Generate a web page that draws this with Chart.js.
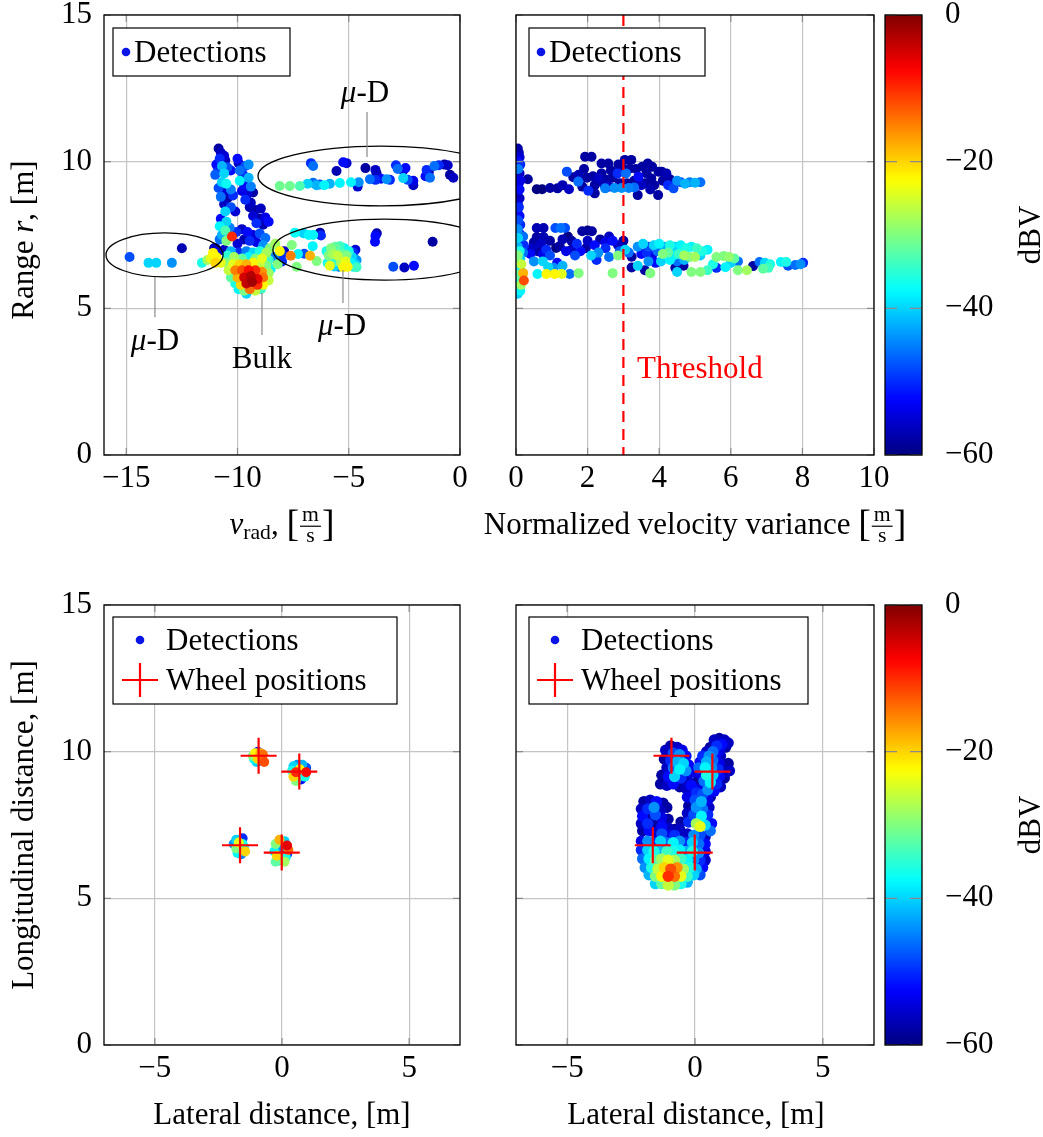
<!DOCTYPE html>
<html>
<head>
<meta charset="utf-8">
<script src="https://cdn.jsdelivr.net/npm/chart.js@4.4.1/dist/chart.umd.min.js"></script>
<style>
  body { margin: 0; background: #fff; width: 1043px; height: 1137px; position: relative; overflow: hidden; }
  canvas { position: absolute; }
</style>
</head>
<body>
<canvas id="tl" width="480" height="560" style="left:0;top:0"></canvas>
<canvas id="tr" width="470" height="560" style="left:480px;top:0"></canvas>
<canvas id="cbTop" width="173" height="480" style="left:870px;top:0"></canvas>
<canvas id="bl" width="480" height="577" style="left:0;top:560px"></canvas>
<canvas id="br" width="420" height="577" style="left:480px;top:560px"></canvas>
<canvas id="cbBottom" width="173" height="480" style="left:870px;top:590px"></canvas>
<script>
// detections are [x, y, dBV]

// top left: range vs radial velocity
const tlBulk = [
  [-10.85,10.45,-58],[-10.75,10.3,-56],[-10.6,10.2,-55],[-10.8,10.1,-50],[-10.55,10.05,-57],
  [-10.95,9.9,-52],[-10.7,9.85,-42],[-10.45,9.8,-48],[-10.9,9.65,-50],[-10.6,9.6,-40],[-10.3,9.7,-52],[-11.0,9.55,-47],
  [-10.0,10.1,-52],[-9.95,9.95,-56],[-9.65,9.85,-48],[-9.5,9.9,-44],[-9.9,9.7,-46],
  [-9.75,9.55,-50],[-9.5,9.45,-42],[-9.9,9.35,-38],[-9.7,9.2,-52],[-9.4,9.15,-45],[-9.8,9.0,-54],[-9.55,8.9,-55],[-9.3,8.95,-58],[-9.65,8.7,-50],[-9.4,8.6,-56],
  [-10.7,9.3,-40],[-10.5,9.25,-37],[-10.85,9.1,-48],[-10.6,9.0,-55],[-10.3,9.05,-45],[-10.75,8.8,-46],[-10.45,8.75,-58],[-10.2,8.85,-50],[-10.6,8.55,-56],[-10.3,8.45,-48],[-10.55,8.3,-40],[-10.1,8.3,-55],
  [-9.45,8.45,-57],[-9.2,8.35,-58],[-8.95,8.4,-56],[-9.3,8.15,-55],[-9.0,8.05,-58],[-8.75,8.1,-54],[-9.15,7.9,-50],[-8.85,7.85,-57],[-8.6,7.95,-52],
  [-10.75,8.05,-52],[-10.5,7.95,-40],[-10.8,7.8,-38],[-10.55,7.65,-33],[-10.35,7.75,-45],[-10.7,7.5,-42],[-10.25,7.45,-10],[-10.5,7.3,-30],[-10.8,7.35,-46],[-10.05,7.6,-50],
  [-9.8,7.7,-56],[-9.55,7.6,-52],[-9.3,7.5,-55],[-9.0,7.55,-48],[-8.75,7.4,-46],[-9.7,7.35,-57],[-9.45,7.3,-50],[-9.15,7.25,-54],[-8.85,7.15,-44],[-10.0,7.2,-55],
  [-11.05,7.05,-58],[-10.6,7.0,-56],[-10.3,6.95,-42],[-9.95,6.9,-50],[-9.6,6.95,-45],[-9.3,6.9,-40],[-9.0,6.95,-36],[-8.7,6.9,-28],[-8.55,7.05,-30],
  [-10.45,6.8,-35],[-10.15,6.75,-28],[-9.8,6.7,-32],[-9.5,6.75,-38],[-9.2,6.7,-30],[-8.9,6.7,-24],[-8.6,6.65,-34],
  [-10.5,6.55,-30],[-10.2,6.5,-24],[-9.9,6.5,-20],[-9.6,6.5,-18],[-9.3,6.55,-22],[-9.0,6.5,-26],[-8.7,6.45,-30],[-8.5,6.35,-38],
  [-10.4,6.3,-26],[-10.1,6.3,-15],[-9.8,6.3,-12],[-9.5,6.3,-8],[-9.2,6.3,-10],[-8.9,6.25,-16],[-8.6,6.2,-28],
  [-10.3,6.05,-32],[-10.0,6.05,-18],[-9.7,6.05,-5],[-9.4,6.1,-3],[-9.1,6.0,-6],[-8.85,6.05,-14],[-8.6,5.95,-26],
  [-10.1,5.85,-36],[-9.85,5.8,-20],[-9.6,5.85,-4],[-9.35,5.9,-2],[-9.1,5.8,-10],[-8.85,5.8,-22],
  [-9.95,5.65,-38],[-9.7,5.6,-30],[-9.45,5.65,-14],[-9.2,5.6,-26],[-8.95,5.65,-34],[-9.6,5.5,-40]
];
const tlMuDUpper = [
  [-8.1,9.17,-31],[-7.65,9.17,-31],[-7.2,9.17,-33],[-6.85,9.25,-40],[-6.6,9.28,-46],[-6.45,9.2,-42],[-6.3,9.22,-48],
  [-6.1,9.2,-38],[-5.85,9.25,-42],[-5.4,9.27,-38],[-4.9,9.3,-38],[-4.6,9.15,-55],[-4.55,9.3,-44],
  [-6.7,9.95,-50],[-6.6,9.85,-46],[-5.55,9.68,-57],[-5.25,9.98,-52],[-5.1,9.95,-55],[-4.25,9.78,-58],[-3.8,9.72,-56],[-3.75,9.6,-58],
  [-4.05,9.4,-46],[-3.8,9.38,-50],[-3.55,9.42,-52],[-3.3,9.4,-44],[-3.15,9.38,-50],[-2.88,9.88,-50],[-2.8,9.75,-46],
  [-2.55,9.7,-55],[-2.45,9.78,-52],[-2.55,9.44,-40],[-2.35,9.38,-48],[-2.1,9.35,-54],[-2.1,9.2,-56],
  [-1.5,9.72,-50],[-1.55,9.5,-52],[-1.35,9.45,-46],[-1.15,9.85,-46],[-0.95,9.88,-50],[-0.7,9.9,-58],[-0.55,9.88,-56],
  [-0.45,9.55,-58],[-0.3,9.45,-56],[-1.4,9.65,-57]
];
const tlMuDLeft = [
  [-14.85,6.75,-48],[-14.0,6.55,-40],[-13.65,6.55,-40],[-12.95,6.55,-44],[-12.5,7.05,-57],[-11.6,6.55,-36],
  [-11.35,6.65,-28],[-11.1,6.89,-22],[-11.2,6.7,-24],[-10.95,6.75,-22],[-10.75,6.55,-24],[-10.85,6.95,-55],
  [-11.0,7.06,-56],[-11.0,6.55,-20]
];
const tlMuDRight = [
  [-7.42,7.58,-37],[-7.04,7.56,-40],[-6.8,7.5,-38],[-6.6,7.5,-38],[-6.29,7.58,-58],[-6.25,7.48,-50],
  [-3.74,7.56,-57],[-3.8,7.47,-52],[-3.82,7.27,-52],[-1.23,7.27,-58],
  [-7.56,7.16,-30],[-8.01,6.84,-50],[-7.61,6.79,-15],[-7.28,6.85,-38],[-6.74,6.79,-18],[-6.62,7.12,-38],[-7.0,6.86,-48],
  [-6.44,6.61,-30],[-7.34,6.42,-30],
  [-8.3,7.2,-28],[-8.1,6.95,-22],[-8.35,6.75,-45],[-8.0,6.6,-50],[-8.2,6.5,-30],[-7.9,6.95,-56],
  [-6.0,6.95,-36],[-5.8,7.05,-30],[-5.6,7.1,-32],[-5.4,7.12,-34],[-5.2,7.05,-38],[-5.0,6.95,-36],[-4.8,6.9,-50],[-4.7,7.0,-55],
  [-5.9,6.8,-30],[-5.7,6.85,-28],[-5.5,6.8,-26],[-5.3,6.85,-32],[-5.1,6.8,-30],[-4.85,6.75,-40],[-4.65,6.65,-44],
  [-5.95,6.55,-36],[-5.75,6.6,-34],[-5.55,6.6,-36],[-5.35,6.55,-28],[-5.15,6.6,-24],[-4.9,6.55,-38],[-4.7,6.5,-40],
  [-5.85,6.45,-24],[-5.65,6.43,-40],[-5.45,6.42,-45],[-5.25,6.4,-22],[-5.05,6.42,-22],[-4.8,6.42,-38],[-4.65,6.4,-34],
  [-3.0,6.42,-48],[-2.5,6.39,-56],[-2.07,6.45,-52]
];

// top right: range vs normalized velocity variance
const trColumn = [
  [0.05,10.45,-58],[0.08,10.3,-57],[0.1,10.15,-55],[0.04,10.0,-52],[0.12,9.9,-50],[0.06,9.75,-45],[0.1,9.6,-56],
  [0.04,9.45,-58],[0.12,9.35,-54],[0.06,9.2,-57],[0.1,9.05,-52],[0.04,8.9,-58],[0.1,8.75,-56],[0.05,8.6,-55],
  [0.08,8.45,-50],[0.04,8.3,-57],[0.1,8.15,-52],[0.06,8.0,-48],[0.12,7.85,-50],[0.05,7.7,-44],[0.1,7.55,-52],
  [0.2,7.45,-46],[0.06,7.4,-40],[0.12,7.25,-54],[0.22,7.15,-50],[0.05,7.1,-42],[0.1,6.95,-36],[0.2,6.9,-46],
  [0.05,6.8,-30],[0.12,6.7,-40],[0.04,6.6,-34],[0.15,6.5,-26],[0.06,6.4,-38],[0.12,6.3,-42],[0.2,6.2,-18],
  [0.05,6.15,-32],[0.1,6.05,-40],[0.22,5.95,-12],[0.06,5.9,-36],[0.14,5.8,-28],[0.04,5.7,-44],[0.12,5.6,-38],[0.05,5.5,-40]
];
const trUpperBand = [
  [0.33,9.4,-58],[0.58,9.06,-60],[0.73,9.06,-60],[1.16,9.09,-58],[1.48,9.06,-56],[1.42,9.66,-48],[1.6,9.47,-58],
  [1.74,9.32,-46],[1.85,9.15,-58],[2.02,9.01,-50],[1.93,10.17,-58],[2.11,10.17,-58],[1.98,9.45,-58],[2.2,9.2,-58],
  [2.2,8.92,-58],[2.39,9.6,-58],[2.39,9.94,-58],[2.49,9.09,-45],[2.53,9.38,-58],[2.58,9.94,-58],[2.86,9.9,-58],
  [2.84,9.6,-50],[2.9,9.26,-58],[3.04,10.06,-58],[3.07,9.6,-46],[3.1,9.26,-58],[3.18,9.77,-58],[3.22,10.06,-58],
  [3.42,9.49,-52],[3.4,8.86,-58],[3.53,9.83,-58],[3.65,9.6,-58],[3.68,9.94,-58],[3.6,9.26,-58],[3.78,9.43,-58],
  [3.86,9.2,-58],[3.97,8.86,-58],[3.98,9.66,-58],[4.07,9.66,-58],[3.8,9.83,-58],[4.25,9.2,-50],[4.3,9.4,-58],
  [4.4,9.09,-48],[4.5,9.35,-44],[4.6,9.3,-48],[4.72,9.25,-42],[4.85,9.3,-45],[5.0,9.28,-42],[5.15,9.3,-46],
  [2.75,9.1,-44],[2.95,9.1,-44],[3.15,9.1,-45],[3.3,9.12,-46],[2.3,9.45,-56],[2.65,9.7,-58],[3.3,9.35,-58],
  [0.95,9.1,-58],[1.3,9.2,-57],[1.75,9.55,-57],[1.9,9.75,-58],[2.15,9.5,-58],[2.45,9.25,-57],[2.7,9.45,-58],
  [2.95,9.8,-58],[3.35,9.75,-58],[3.5,9.2,-56],[3.75,9.05,-57],[4.1,9.35,-58],[4.2,9.6,-57],[2.6,9.15,-56]
];
const trLowerBand = [
  [0.58,7.74,-57],[0.77,7.74,-57],[0.58,7.43,-58],[0.77,7.43,-57],[1.1,7.74,-48],[1.25,7.74,-46],[1.37,7.74,-48],
  [1.12,7.06,-60],[1.22,7.12,-58],[1.45,7.45,-60],[1.85,7.63,-58],[2.0,7.65,-60],[2.12,7.63,-58],
  [1.55,7.3,-58],[1.7,7.2,-50],[1.55,7.0,-56],[1.8,6.95,-52],[2.0,7.3,-56],[2.2,7.15,-52],[2.35,7.35,-58],[2.5,7.25,-54],
  [2.5,7.05,-50],[2.7,7.3,-52],[2.85,7.15,-56],[2.9,6.95,-48],[2.3,6.9,-44],[2.1,6.8,-40],[2.6,6.75,-46],[2.85,6.8,-30],
  [3.0,7.3,-58],[3.05,7.0,-40],
  [0.3,7.0,-58],[0.45,7.05,-56],[0.6,6.95,-58],[0.75,6.85,-54],[0.85,7.0,-50],[0.4,6.85,-52],[0.95,6.8,-48],
  [0.9,6.4,-40],[1.05,6.38,-44],[1.15,6.55,-52],
  [0.6,6.17,-38],[0.85,6.17,-22],[1.08,6.17,-22],[1.28,6.17,-24],[1.5,6.17,-46],[1.75,6.2,-30],[2.7,6.2,-30],[3.75,6.2,-30],
  [3.23,6.39,-58],[3.23,6.76,-58],
  [3.4,7.1,-44],[3.55,7.2,-40],[3.7,7.1,-48],[3.85,7.15,-40],[4.0,7.2,-38],[4.15,7.1,-42],[4.3,7.15,-36],[4.45,7.1,-40],
  [4.6,7.15,-38],[4.75,7.05,-36],[4.9,7.1,-38],[5.05,7.05,-34],[5.2,6.95,-36],[5.35,7.0,-38],
  [3.5,6.85,-52],[3.65,6.9,-50],[3.8,6.8,-54],[3.95,6.95,-46],[4.1,6.85,-30],[4.25,6.9,-32],[4.4,6.8,-38],[4.55,6.85,-34],
  [4.7,6.8,-28],[4.85,6.75,-30],[5.0,6.75,-28],[5.15,6.8,-40],
  [3.7,6.6,-44],[3.9,6.55,-52],[4.05,6.6,-40],[4.3,6.65,-38],[4.5,6.6,-46],[4.7,6.65,-42],
  [5.6,6.75,-30],[5.8,6.78,-30],[5.95,6.75,-29],[6.1,6.7,-32],[6.0,6.55,-40],[6.2,6.6,-46],[5.6,6.38,-50],[5.85,6.4,-38],
  [6.2,6.3,-30],[6.45,6.3,-28],[6.62,6.44,-58],[6.8,6.58,-46],[6.95,6.55,-40],[7.1,6.5,-36],[6.9,6.35,-32],[7.05,6.38,-34],
  [7.4,6.58,-38],[7.55,6.58,-36],[7.6,6.45,-48],[7.8,6.48,-46],[7.95,6.5,-44],[8.02,6.55,-50],
  [4.45,6.38,-58],[4.68,6.45,-58],[4.5,6.24,-40],[4.9,6.24,-30],[5.15,6.24,-30],[5.35,6.3,-34],[5.5,6.5,-36],
  [0.5,7.25,-58],[0.7,7.2,-56],[0.95,7.3,-58],[1.3,7.35,-57],[1.4,6.95,-54],[1.65,6.8,-48],[1.95,7.05,-58],
  [2.25,6.65,-50],[2.6,7.45,-56],[3.15,6.9,-46],[0.5,6.6,-44],[0.75,6.6,-40],[1.3,6.45,-42],[3.4,6.45,-40],[3.6,6.3,-58]
];

// bottom left: positions of filtered detections
const blClusters = [
  [-1.15,9.85,-30],[-1.05,9.95,-22],[-0.95,10.0,-50],[-0.85,9.95,-18],[-0.75,9.9,-14],[-1.1,9.75,-38],[-0.95,9.75,-20],
  [-0.8,9.8,-24],[-0.7,9.65,-12],[-1.0,9.65,-40],[-0.85,9.7,-56],
  [0.45,9.5,-40],[0.6,9.55,-44],[0.8,9.55,-42],[0.95,9.45,-48],[0.4,9.35,-36],[0.55,9.3,-10],[0.7,9.4,-22],[0.85,9.3,-60],
  [0.95,9.3,-8],[0.45,9.15,-20],[0.6,9.1,-40],[0.75,9.05,-52],[0.9,9.15,-36],[0.55,9.0,-30],[0.7,9.25,-56],
  [-1.8,7.0,-40],[-1.55,7.05,-50],[-1.9,6.85,-44],[-1.7,6.9,-24],[-1.55,6.85,-36],[-1.8,6.7,-30],[-1.65,6.65,-56],
  [-1.5,6.75,-40],[-1.75,6.55,-38],[-1.6,6.5,-45],[-1.45,6.6,-20],
  [-0.1,7.0,-18],[0.1,6.95,-40],[-0.25,6.85,-30],[0.2,6.8,-6],[-0.05,6.75,-44],[0.25,6.65,-14],[-0.3,6.6,-38],
  [0.05,6.55,-55],[-0.2,6.45,-20],[0.15,6.4,-36],[-0.1,6.3,-46],[0.1,6.25,-28],[-0.25,6.25,-32],[0.2,6.5,-50]
];

// bottom right: positions of all detections
const brUpper = [
  [0.75,10.4,-56],[0.95,10.45,-58],[1.15,10.4,-56],[1.05,10.25,-52],[0.85,10.2,-50],[0.6,10.15,-58],[1.2,10.15,-58],
  [0.45,10.0,-56],[0.7,10.0,-46],[0.95,10.05,-54],[0.3,9.85,-50],[0.55,9.85,-44],[0.8,9.9,-52],[1.0,9.85,-56],
  [0.2,9.65,-52],[0.45,9.65,-42],[0.7,9.7,-46],[0.95,9.6,-54],[1.15,9.55,-58],
  [0.15,9.45,-46],[0.4,9.45,-38],[0.65,9.45,-44],[0.9,9.4,-50],[1.2,9.3,-56],
  [0.2,9.25,-54],[0.45,9.2,-36],[0.7,9.2,-40],[0.95,9.15,-52],[1.15,9.1,-58],
  [0.1,9.0,-58],[0.35,9.0,-46],[0.6,8.95,-38],[0.85,8.9,-50],[1.0,8.8,-56],
  [0.25,8.75,-54],[0.5,8.7,-44],[0.75,8.65,-52],[0.4,8.5,-56],[0.6,8.45,-58],
  [-0.95,10.2,-58],[-0.7,10.15,-56],[-0.5,10.05,-54],[-1.15,10.05,-56],[-0.85,9.95,-48],[-0.6,9.9,-44],[-0.35,9.85,-52],
  [-1.2,9.75,-58],[-0.95,9.7,-50],[-0.7,9.65,-42],[-0.45,9.6,-40],[-0.25,9.55,-52],
  [-1.1,9.45,-56],[-0.85,9.45,-46],[-0.6,9.4,-38],[-0.35,9.35,-44],[-0.15,9.3,-54],
  [-1.3,9.2,-58],[-1.05,9.15,-52],[-0.8,9.15,-40],[-0.55,9.1,-50],[-0.3,9.05,-56],
  [-1.35,8.9,-58],[-1.1,8.85,-56],[-0.85,8.9,-52],[-0.6,8.8,-58],[-0.35,8.75,-56],[-0.15,8.85,-52],
  [1.35,9.35,-56],[1.3,9.6,-58],[1.3,10.3,-56]
];
const brMiddle = [
  [-2.0,8.3,-58],[-1.75,8.35,-56],[-1.5,8.3,-52],[-1.25,8.25,-58],[-2.1,8.05,-56],[-1.85,8.05,-50],[-1.6,8.1,-44],
  [-1.35,8.0,-56],[-1.1,8.1,-58],[-2.05,7.8,-52],[-1.8,7.8,-58],[-1.55,7.85,-48],[-1.3,7.75,-54],[-1.05,7.7,-58],
  [-2.1,7.55,-56],[-1.85,7.55,-50],[-1.6,7.5,-58],[-1.3,7.45,-52],[-1.05,7.4,-56],[-0.8,7.35,-58],
  [-0.2,8.7,-56],[0.05,8.6,-50],[0.3,8.55,-48],[-0.3,8.45,-54],[0.0,8.35,-48],[0.25,8.3,-42],[0.5,8.35,-54],
  [-0.25,8.15,-58],[0.05,8.1,-44],[0.3,8.05,-46],[0.55,8.1,-56],[-0.3,7.9,-56],[-0.05,7.85,-48],[0.25,7.8,-38],
  [0.5,7.85,-50],[-0.55,7.6,-58],[-0.25,7.6,-50],[0.05,7.55,-28],[0.2,7.45,-24],[0.4,7.5,-40],[0.65,7.55,-52],
  [-0.6,7.35,-56],[0.6,7.3,-46]
];
const brBottom = [
  [-2.05,7.3,-58],[-1.8,7.3,-52],[-1.55,7.25,-56],[-1.3,7.2,-48],[-1.05,7.15,-54],[-0.8,7.15,-50],[-0.55,7.2,-58],
  [-0.3,7.2,-56],[-0.05,7.15,-44],[0.2,7.15,-48],[0.4,7.1,-56],
  [-2.1,6.95,-54],[-1.85,6.95,-44],[-1.6,6.9,-50],[-1.35,6.95,-40],[-1.1,6.9,-46],[-0.85,6.9,-38],[-0.6,6.95,-44],
  [-0.35,6.9,-50],[-0.1,6.9,-40],[0.15,6.85,-46],[0.4,6.85,-52],
  [-2.1,6.65,-50],[-1.85,6.65,-40],[-1.6,6.6,-36],[-1.35,6.65,-42],[-1.1,6.6,-34],[-0.85,6.6,-36],[-0.6,6.65,-38],
  [-0.35,6.6,-42],[-0.1,6.6,-36],[0.15,6.55,-44],[0.4,6.6,-54],
  [-2.05,6.35,-46],[-1.8,6.35,-38],[-1.55,6.3,-32],[-1.3,6.35,-28],[-1.05,6.3,-24],[-0.8,6.3,-28],[-0.55,6.35,-34],
  [-0.3,6.3,-38],[-0.05,6.3,-44],[0.2,6.3,-50],[0.4,6.3,-56],
  [-1.95,6.05,-44],[-1.7,6.05,-36],[-1.45,6.0,-26],[-1.2,6.05,-20],[-0.95,6.0,-12],[-0.7,6.05,-16],[-0.45,6.0,-28],
  [-0.2,6.05,-36],[0.05,6.0,-42],[0.3,6.05,-52],
  [-1.8,5.8,-42],[-1.55,5.75,-30],[-1.3,5.75,-22],[-1.05,5.75,-10],[-0.8,5.75,-14],[-0.55,5.75,-24],[-0.3,5.75,-34],
  [-0.05,5.8,-40],[0.2,5.8,-48],
  [-1.55,5.5,-40],[-1.3,5.5,-32],[-1.05,5.45,-26],[-0.8,5.45,-30],[-0.55,5.5,-36],[-0.3,5.55,-42]
];

const wheelX = [-0.92, 0.68, -1.65, -0.01];
const wheelY = [9.86, 9.32, 6.81, 6.56];
const thresholdX = 3;

const vradTicks = [-15, -10, -5, 0];
const rangeTicks = [0, 5, 10, 15];
const varianceTicks = [0, 2, 4, 6, 8, 10];
const lateralTicks = [-5, 0, 5];
const dbvTicks = [-60, -40, -20, 0];

const FONT = "'Liberation Serif', 'DejaVu Serif', serif";
const FS = 31;
Chart.defaults.font.family = FONT;
Chart.defaults.font.size = FS;
Chart.defaults.color = '#000';

function jet(v) {
  const t = Math.min(1, Math.max(0, (v + 60) / 60));
  const c = k => Math.round(255 * Math.min(1, Math.max(0, 1.5 - Math.abs(4 * t - k))));
  return 'rgb(' + c(3) + ',' + c(2) + ',' + c(1) + ')';
}
const fmt = v => String(v).replace('-', '\u2212');

// rich text: segments {t, i, sub} or {frac:[num, den]}
function segFont(s, fs) {
  return (s.i ? 'italic ' : '') + (s.sub ? fs * 0.7 : fs) + 'px ' + FONT;
}
function segWidth(ctx, s, fs) {
  if (s.frac) {
    ctx.font = (fs * 1.22) + 'px ' + FONT;
    const bw = ctx.measureText('[').width;
    ctx.font = (fs * 0.7) + 'px ' + FONT;
    const fw = Math.max(ctx.measureText(s.frac[0]).width, ctx.measureText(s.frac[1]).width) + 4;
    return bw * 2 + fw + 2;
  }
  ctx.font = segFont(s, fs);
  return ctx.measureText(s.t).width;
}
function drawRich(ctx, segs, cx, base, opts) {
  const fs = opts.fs || FS;
  ctx.save();
  ctx.translate(cx, base);
  if (opts.rot) ctx.rotate(opts.rot);
  ctx.fillStyle = opts.color || '#000';
  ctx.textAlign = 'left';
  ctx.textBaseline = 'alphabetic';
  const total = segs.reduce((a, s) => a + segWidth(ctx, s, fs), 0);
  let x = opts.left ? 0 : -total / 2;
  segs.forEach(s => {
    if (s.frac) {
      const bf = fs * 1.22, sf = fs * 0.7;
      ctx.font = bf + 'px ' + FONT;
      const bw = ctx.measureText('[').width;
      ctx.fillText('[', x, 0.06 * fs);
      x += bw + 1;
      ctx.font = sf + 'px ' + FONT;
      const w1 = ctx.measureText(s.frac[0]).width, w2 = ctx.measureText(s.frac[1]).width;
      const fw = Math.max(w1, w2) + 4;
      ctx.fillText(s.frac[0], x + (fw - w1) / 2, -0.42 * fs);
      ctx.fillText(s.frac[1], x + (fw - w2) / 2, 0.26 * fs);
      ctx.fillRect(x, -0.27 * fs, fw, 1.2);
      x += fw + 1;
      ctx.font = bf + 'px ' + FONT;
      ctx.fillText(']', x, 0.06 * fs);
      x += bw;
    } else {
      ctx.font = segFont(s, fs);
      ctx.fillText(s.t, x, s.sub ? 0.16 * fs : 0);
      x += ctx.measureText(s.t).width;
    }
  });
  ctx.restore();
}

function overlay(o) {
  return {
    id: 'overlay',
    afterDatasetsDraw(chart) {
      const { ctx, chartArea: a, scales } = chart;
      const sx = scales.x, sy = scales.y;
      ctx.save();
      ctx.beginPath();
      ctx.rect(a.left, a.top, a.right - a.left, a.bottom - a.top);
      ctx.clip();
      (o.ellipses || []).forEach(e => {
        const cx = sx.getPixelForValue(e[0]), cy = sy.getPixelForValue(e[1]);
        const rx = Math.abs(sx.getPixelForValue(e[0] + e[2]) - cx);
        const ry = Math.abs(sy.getPixelForValue(e[1] + e[3]) - cy);
        ctx.beginPath();
        ctx.ellipse(cx, cy, rx, ry, 0, 0, Math.PI * 2);
        ctx.strokeStyle = '#000';
        ctx.lineWidth = 1.3;
        ctx.stroke();
      });
      if (o.threshold !== undefined) {
        const px = sx.getPixelForValue(o.threshold);
        ctx.beginPath();
        ctx.setLineDash([11, 7]);
        ctx.moveTo(px, a.top);
        ctx.lineTo(px, a.bottom);
        ctx.strokeStyle = '#ff0000';
        ctx.lineWidth = 2.2;
        ctx.stroke();
        ctx.setLineDash([]);
      }
      ctx.restore();

      // leader lines and labels
      ctx.save();
      (o.leaders || []).forEach(l => {
        const px = sx.getPixelForValue(l[0]);
        ctx.beginPath();
        ctx.moveTo(px, sy.getPixelForValue(l[1]));
        ctx.lineTo(px, sy.getPixelForValue(l[2]));
        ctx.strokeStyle = '#8a8a8a';
        ctx.lineWidth = 1.2;
        ctx.stroke();
      });
      ctx.restore();
      (o.labels || []).forEach(l => {
        const px = sx.getPixelForValue(l.x), py = sy.getPixelForValue(l.y);
        drawRich(ctx, l.segs, px, py + 0.33 * FS, { color: l.color, left: l.left });
      });

      // frame with inner tick marks
      ctx.save();
      ctx.strokeStyle = '#8a8a8a';
      ctx.lineWidth = 1.2;
      sx.ticks.forEach(t => {
        const px = sx.getPixelForValue(t.value);
        ctx.beginPath();
        ctx.moveTo(px, a.bottom); ctx.lineTo(px, a.bottom - 7);
        ctx.moveTo(px, a.top); ctx.lineTo(px, a.top + 7);
        ctx.stroke();
      });
      sy.ticks.forEach(t => {
        const py = sy.getPixelForValue(t.value);
        ctx.beginPath();
        ctx.moveTo(a.left, py); ctx.lineTo(a.left + 7, py);
        ctx.moveTo(a.right, py); ctx.lineTo(a.right - 7, py);
        ctx.stroke();
      });
      ctx.strokeStyle = '#000';
      ctx.lineWidth = 1.3;
      ctx.strokeRect(a.left, a.top, a.right - a.left, a.bottom - a.top);
      ctx.restore();

      // legend
      if (o.legend) {
        const L = o.legend;
        ctx.save();
        ctx.fillStyle = '#fff';
        ctx.fillRect(L.x, L.y, L.w, L.h);
        ctx.strokeStyle = '#000';
        ctx.lineWidth = 1.2;
        ctx.strokeRect(L.x, L.y, L.w, L.h);
        L.items.forEach(it => {
          if (it.kind === 'dot') {
            ctx.beginPath();
            ctx.arc(it.mx, it.my, 4.3, 0, Math.PI * 2);
            ctx.fillStyle = '#0a14e6';
            ctx.fill();
          } else {
            ctx.beginPath();
            ctx.moveTo(it.mx - 18, it.my); ctx.lineTo(it.mx + 18, it.my);
            ctx.moveTo(it.mx, it.my - 17); ctx.lineTo(it.mx, it.my + 17);
            ctx.strokeStyle = '#ff0000';
            ctx.lineWidth = 2.2;
            ctx.stroke();
          }
          drawRich(ctx, [{ t: it.label }], it.tx, it.my + 0.33 * FS, { left: true });
        });
        ctx.restore();
      }

      // axis titles
      (o.titles || []).forEach(t => drawRich(ctx, t.segs, t.x, t.y, { rot: t.rot }));
    }
  };
}

function axis(a, dir, size) {
  return {
    type: 'linear',
    min: a.min,
    max: a.max,
    position: dir === 'x' ? 'bottom' : 'left',
    grid: { color: '#c4c4c4', lineWidth: 1.2, drawTicks: false },
    border: { display: false },
    ticks: { display: a.labels !== false, padding: a.pad, font: { size: FS }, color: '#000', callback: v => fmt(v) },
    afterBuildTicks: s => { s.ticks = a.ticks.map(v => ({ value: v })); },
    afterFit: s => {
      if (dir === 'x') s.height = size; else s.width = size;
      s.paddingLeft = s.paddingRight = s.paddingTop = s.paddingBottom = 0;
    }
  };
}

function detections(radius, ...groups) {
  const pts = [].concat(...groups).map(p => ({ x: p[0], y: p[1], v: p[2] })).sort((p, q) => p.v - q.v);
  return {
    data: pts,
    pointRadius: radius,
    pointHoverRadius: radius,
    borderWidth: 0,
    backgroundColor: c => jet(c.raw ? c.raw.v : -50)
  };
}
function wheels() {
  return {
    data: wheelX.map((x, i) => ({ x: x, y: wheelY[i] })),
    pointStyle: 'cross',
    pointRadius: 18,
    pointHoverRadius: 18,
    borderColor: '#ff0000',
    borderWidth: 2.2,
    backgroundColor: '#ff0000'
  };
}

function panel(id, cfg) {
  return new Chart(document.getElementById(id), {
    type: 'scatter',
    data: { datasets: cfg.datasets },
    options: {
      responsive: false,
      animation: false,
      events: [],
      layout: { autoPadding: false, padding: cfg.padding },
      plugins: { legend: { display: false }, tooltip: { enabled: false } },
      scales: { x: axis(cfg.x, 'x', cfg.xh), y: axis(cfg.y, 'y', cfg.yw) }
    },
    plugins: [overlay(cfg.overlay)]
  });
}

function colorbar(id) {
  const bar = {
    id: 'bar',
    beforeDatasetsDraw(chart) {
      const { ctx, chartArea: a, scales: { y } } = chart;
      const g = ctx.createLinearGradient(0, a.bottom, 0, a.top);
      for (let k = 0; k <= 60; k++) g.addColorStop(k / 60, jet(-60 + k));
      ctx.save();
      ctx.fillStyle = g;
      ctx.fillRect(a.left, a.top, a.right - a.left, a.bottom - a.top);
      ctx.strokeStyle = '#8a8a8a';
      ctx.lineWidth = 1.2;
      dbvTicks.forEach(v => {
        const py = y.getPixelForValue(v);
        ctx.beginPath();
        ctx.moveTo(a.left, py); ctx.lineTo(a.left + 12, py);
        ctx.moveTo(a.right, py); ctx.lineTo(a.right - 12, py);
        ctx.stroke();
      });
      ctx.strokeStyle = '#000';
      ctx.lineWidth = 1.3;
      ctx.strokeRect(a.left, a.top, a.right - a.left, a.bottom - a.top);
      ctx.restore();
      drawRich(ctx, [{ t: 'dBV' }], 170, (a.top + a.bottom) / 2, { rot: -Math.PI / 2 });
    }
  };
  return new Chart(document.getElementById(id), {
    type: 'scatter',
    data: { datasets: [] },
    options: {
      responsive: false,
      animation: false,
      events: [],
      layout: { autoPadding: false, padding: { left: 15, top: 15, right: 0, bottom: 25 } },
      plugins: { legend: { display: false }, tooltip: { enabled: false } },
      scales: {
        x: { display: false },
        y: {
          type: 'linear', min: -60, max: 0, position: 'right',
          grid: { display: false },
          border: { display: false },
          ticks: { padding: 15, font: { size: FS }, color: '#000', callback: v => fmt(v) },
          afterBuildTicks: s => { s.ticks = dbvTicks.map(v => ({ value: v })); },
          afterFit: s => { s.width = 121; s.paddingTop = s.paddingBottom = 0; }
        }
      }
    },
    plugins: [bar]
  });
}

const muD = [{ t: '\u03bc', i: true }, { t: '-D' }];
const unitFrac = { frac: ['m', 's'] };

panel('tl', {
  datasets: [detections(5, tlBulk, tlMuDUpper, tlMuDLeft, tlMuDRight)],
  padding: { left: 0, top: 15, right: 20, bottom: 0 },
  x: { min: -16, max: 0, ticks: vradTicks, pad: 5 },
  y: { min: 0, max: 15, ticks: rangeTicks, pad: 12 },
  xh: 105, yw: 104,
  overlay: {
    ellipses: [[-3.55, 9.51, 5.53, 1.02], [-13.28, 6.82, 2.63, 0.75], [-3.39, 7.0, 5.02, 1.04]],
    leaders: [[-4.18, 11.69, 10.16], [-13.71, 6.07, 4.7], [-5.26, 6.31, 5.18], [-8.9, 5.52, 4.09]],
    labels: [
      { segs: muD, x: -4.27, y: 12.38 },
      { segs: muD, x: -13.71, y: 3.92 },
      { segs: muD, x: -5.3, y: 4.43 },
      { segs: [{ t: 'Bulk' }], x: -8.9, y: 3.31 }
    ],
    legend: { x: 113, y: 28, w: 177, h: 48, items: [{ kind: 'dot', label: 'Detections', mx: 126, my: 52, tx: 134 }] },
    titles: [
      { segs: [{ t: 'v', i: true }, { t: 'rad', sub: true }, { t: ', ' }, unitFrac], x: 282, y: 534 },
      { segs: [{ t: 'Range ' }, { t: 'r', i: true }, { t: ', [m]' }], x: 33, y: 240, rot: -Math.PI / 2 }
    ]
  }
});

panel('tr', {
  datasets: [detections(5, trColumn, trUpperBand, trLowerBand)],
  padding: { left: 0, top: 15, right: 76, bottom: 0 },
  x: { min: 0, max: 10, ticks: varianceTicks, pad: 5 },
  y: { min: 0, max: 15, ticks: rangeTicks, labels: false },
  xh: 105, yw: 36,
  overlay: {
    threshold: thresholdX,
    labels: [{ segs: [{ t: 'Threshold' }], x: 3.38, y: 2.97, color: '#ff0000', left: true }],
    legend: { x: 49, y: 28, w: 176, h: 48, items: [{ kind: 'dot', label: 'Detections', mx: 61, my: 52, tx: 69 }] },
    titles: [
      { segs: [{ t: 'Normalized velocity variance ' }, unitFrac], x: 215, y: 534 }
    ]
  }
});

panel('bl', {
  datasets: [wheels(), detections(5, blClusters)],
  padding: { left: 0, top: 45, right: 20, bottom: 0 },
  x: { min: -7, max: 7, ticks: lateralTicks, pad: 5 },
  y: { min: 0, max: 15, ticks: rangeTicks, pad: 12 },
  xh: 92, yw: 104,
  overlay: {
    legend: {
      x: 113, y: 57, w: 284, h: 87, items: [
        { kind: 'dot', label: 'Detections', mx: 140, my: 80, tx: 166 },
        { kind: 'cross', label: 'Wheel positions', mx: 140, my: 120, tx: 166 }
      ]
    },
    titles: [
      { segs: [{ t: 'Lateral distance, [m]' }], x: 282, y: 564 },
      { segs: [{ t: 'Longitudinal distance, [m]' }], x: 33, y: 265, rot: -Math.PI / 2 }
    ]
  }
});

panel('br', {
  datasets: [wheels(), detections(5.6, brUpper, brMiddle, brBottom)],
  padding: { left: 0, top: 45, right: 26, bottom: 0 },
  x: { min: -7, max: 7, ticks: lateralTicks, pad: 5 },
  y: { min: 0, max: 15, ticks: rangeTicks, labels: false },
  xh: 92, yw: 36,
  overlay: {
    legend: {
      x: 49, y: 57, w: 279, h: 87, items: [
        { kind: 'dot', label: 'Detections', mx: 75, my: 80, tx: 101 },
        { kind: 'cross', label: 'Wheel positions', mx: 75, my: 120, tx: 101 }
      ]
    },
    titles: [{ segs: [{ t: 'Lateral distance, [m]' }], x: 216, y: 564 }]
  }
});

colorbar('cbTop');
colorbar('cbBottom');
</script>
</body>
</html>
